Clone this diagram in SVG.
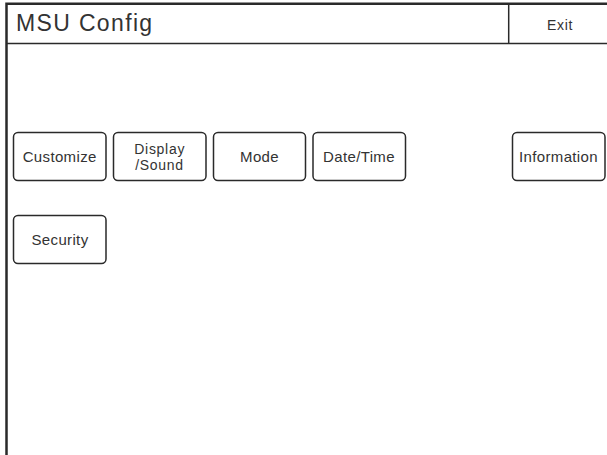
<svg xmlns="http://www.w3.org/2000/svg" width="607" height="455" viewBox="0 0 607 455">
<style>
text{font-family:"Liberation Sans",Arial,sans-serif;fill:#333;text-anchor:middle}
.b{fill:#fff;stroke:#2a2a2a;stroke-width:1.5}
.l{font-size:15px;letter-spacing:0.35px}
.s{font-size:14px;letter-spacing:0.7px}
.f{stroke:#2a2a2a;fill:none}
</style>
<rect width="607" height="455" fill="#fff"/>
<g id="frame">
<path class="f" stroke-width="2.500" d="M6.500 455V3.700H607"/>
<path class="f" stroke-width="1.500" d="M7 43.500H607M508.700 4V43"/>
</g>
<g id="title"><text x="16" y="31" font-size="23" letter-spacing="1.350" style="text-anchor:start">MSU Config</text></g>
<g id="exit"><text x="560" y="30" class="s">Exit</text></g>
<g id="customize"><rect class="b" x="13.500" y="132.500" width="92.500" height="48" rx="4.500"/><text class="l" x="59.700" y="162">Customize</text></g>
<g id="display-sound"><rect class="b" x="113.500" y="132.500" width="92.500" height="48" rx="4.500"/><text class="s" x="159.700" y="153.500">Display</text><text class="s" x="159.500" y="170">/Sound</text></g>
<g id="mode"><rect class="b" x="213.500" y="132.500" width="92" height="48" rx="4.500"/><text class="l" x="259.500" y="162">Mode</text></g>
<g id="date-time"><rect class="b" x="313" y="132.500" width="92.500" height="48" rx="4.500"/><text class="l" x="359" y="162">Date/Time</text></g>
<g id="information"><rect class="b" x="512.500" y="132.500" width="92.500" height="48" rx="4.500"/><text class="l" x="558.500" y="162">Information</text></g>
<g id="security"><rect class="b" x="13.500" y="215.500" width="92.500" height="48" rx="4.500"/><text class="l" x="60" y="245">Security</text></g>
</svg>
